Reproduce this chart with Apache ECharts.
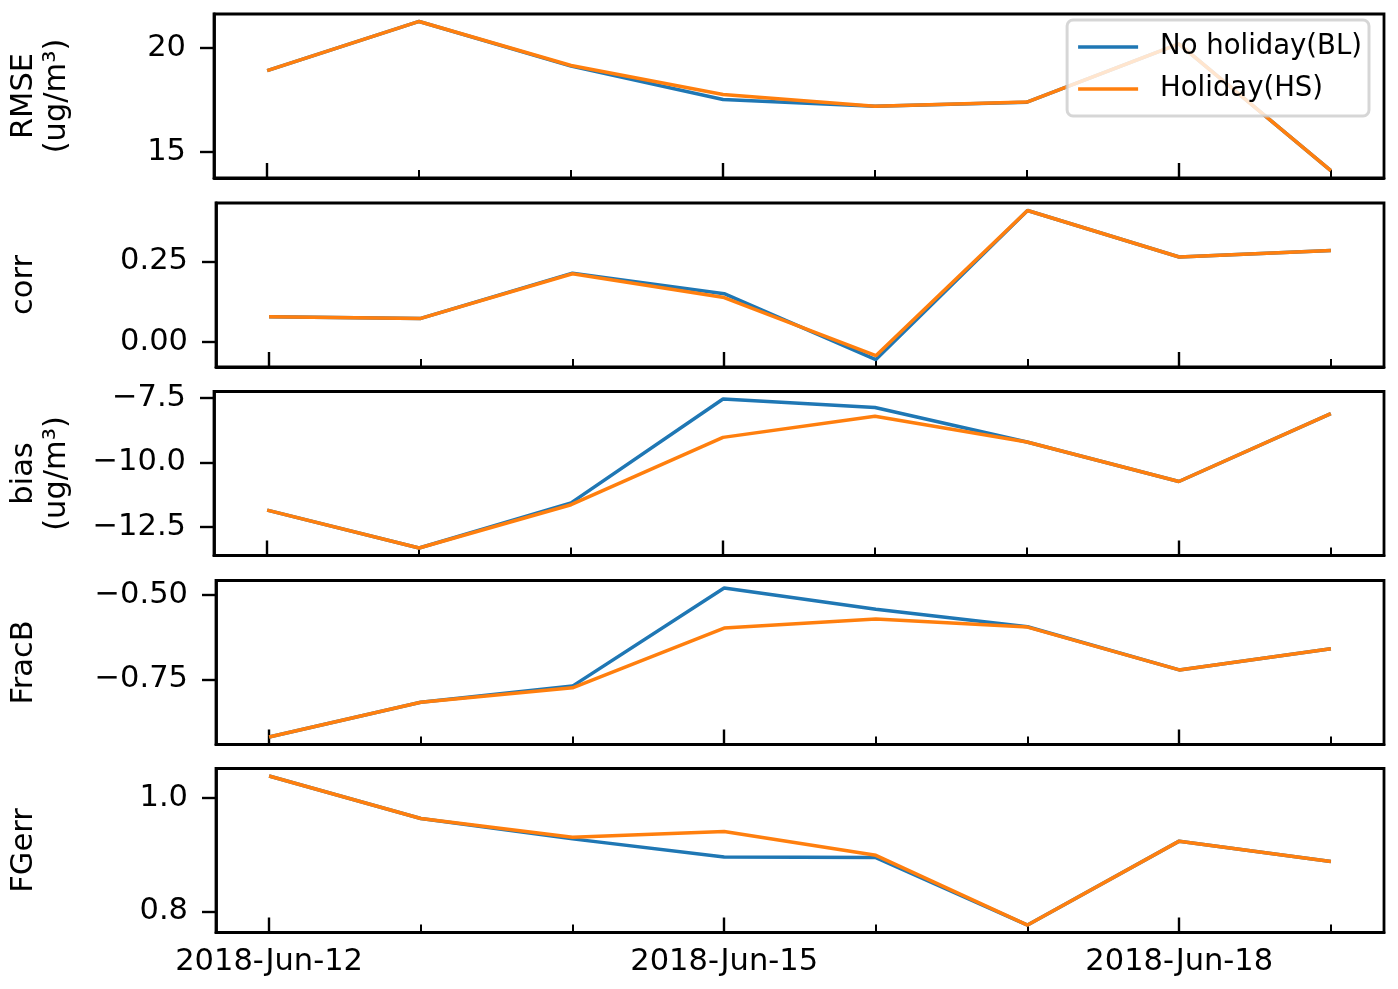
<!DOCTYPE html>
<html>
<head>
<meta charset="utf-8">
<script src="https://cdn.jsdelivr.net/npm/echarts@6/dist/echarts.min.js"></script>
<style>html,body{margin:0;padding:0;background:#fff;}#c{width:1398px;height:989px;}</style>
</head>
<body>
<div id="c"></div>
<script>
// ---- data ----
const dates = ['2018-Jun-12','2018-Jun-13','2018-Jun-14','2018-Jun-15','2018-Jun-16','2018-Jun-17','2018-Jun-18','2018-Jun-19'];
const majorDateIdx = [0, 3, 6];
const seriesNames = ['No holiday(BL)', 'Holiday(HS)'];

const rmseBL = [18.91, 21.28, 19.13, 17.52, 17.20, 17.39, 20.20, 14.10];
const rmseHS = [18.91, 21.28, 19.16, 17.76, 17.20, 17.40, 20.20, 14.10];
const corrBL = [0.078, 0.073, 0.214, 0.150, -0.055, 0.409, 0.264, 0.284];
const corrHS = [0.078, 0.073, 0.212, 0.138, -0.043, 0.409, 0.264, 0.284];
const biasBL = [-11.85, -13.32, -11.57, -7.54, -7.87, -9.21, -10.74, -8.11];
const biasHS = [-11.85, -13.32, -11.64, -9.03, -8.21, -9.21, -10.74, -8.11];
const fracbBL = [-0.921, -0.818, -0.770, -0.479, -0.542, -0.594, -0.722, -0.659];
const fracbHS = [-0.921, -0.818, -0.775, -0.598, -0.571, -0.595, -0.722, -0.659];
const fgerrBL = [1.039, 0.964, 0.928, 0.896, 0.895, 0.776, 0.924, 0.888];
const fgerrHS = [1.039, 0.964, 0.931, 0.941, 0.899, 0.776, 0.924, 0.888];

const rmseTicks = [15, 20];
const corrTicks = [0, 0.25];
const biasTicks = [-12.5, -10, -7.5];
const fracbTicks = [-0.75, -0.5];
const fgerrTicks = [0.8, 1.0];

const panelNames = ['RMSE\n(ug/m³)', 'corr', 'bias\n(ug/m³)', 'FracB', 'FGerr'];

// ---- build ----
const panels = [
  {name: panelNames[0], bl: rmseBL, hs: rmseHS, ticks: rmseTicks, dec: 0},
  {name: panelNames[1], bl: corrBL, hs: corrHS, ticks: corrTicks, dec: 2},
  {name: panelNames[2], bl: biasBL, hs: biasHS, ticks: biasTicks, dec: 1},
  {name: panelNames[3], bl: fracbBL, hs: fracbHS, ticks: fracbTicks, dec: 2},
  {name: panelNames[4], bl: fgerrBL, hs: fgerrHS, ticks: fgerrTicks, dec: 1}
];
const FONT = 'DejaVu Sans';
const FS = 30.5;
const LFS = 27.5;
const tops = [14, 203, 391.5, 580.5, 768.5];
const H = 164;
const colors = ['#1f77b4', '#ff7f0e'];
const xMin = -0.35, xMax = dates.length - 1 + 0.35;

const grid = [], xAxis = [], yAxis = [], series = [];
panels.forEach((p, i) => {
  grid.push({left: 213, right: 14, top: tops[i], height: H, show: true,
    borderColor: '#000', borderWidth: 2.8, backgroundColor: 'transparent'});
  const isLast = i === panels.length - 1;
  xAxis.push({type: 'value', gridIndex: i, min: xMin, max: xMax,
    axisLine: {show: true, onZero: false, lineStyle: {color: '#000', width: 2.8}},
    axisTick: {show: true, inside: true, length: 8, lineStyle: {color: '#000', width: 2},
      customValues: dates.map((d, k) => k)},
    axisLabel: {show: isLast, customValues: majorDateIdx, margin: 14,
      fontFamily: FONT, fontSize: FS, color: '#000',
      formatter: v => dates[Math.round(v)]},
    splitLine: {show: false}});
  xAxis.push({type: 'value', gridIndex: i, min: xMin, max: xMax, position: 'bottom',
    axisLine: {show: false, onZero: false},
    axisTick: {show: true, inside: true, length: 15, lineStyle: {color: '#000', width: 2.4},
      customValues: majorDateIdx},
    axisLabel: {show: false, customValues: majorDateIdx},
    splitLine: {show: false}});
  const all = p.bl.concat(p.hs);
  const dmin = Math.min(...all), dmax = Math.max(...all);
  const pad = 0.05 * (dmax - dmin);
  const twoLine = p.name.indexOf('\n') >= 0;
  yAxis.push({type: 'value', gridIndex: i, min: dmin - pad, max: dmax + pad,
    name: p.name, nameLocation: 'middle', nameRotate: 90, nameGap: twoLine ? 140 : 175,
    nameTextStyle: {fontFamily: FONT, fontSize: FS, color: '#000', lineHeight: 33},
    axisLine: {show: true, onZero: false, lineStyle: {color: '#000', width: 2.8}},
    axisTick: {show: true, inside: false, length: 14, lineStyle: {color: '#000', width: 2.4},
      customValues: p.ticks},
    axisLabel: {show: true, customValues: p.ticks, margin: 28,
      fontFamily: FONT, fontSize: FS, color: '#000',
      formatter: v => v.toFixed(p.dec).replace('-', '\u2212')},
    splitLine: {show: false}});
  [p.bl, p.hs].forEach((arr, s) => {
    series.push({type: 'line', name: seriesNames[s], xAxisIndex: 2 * i, yAxisIndex: i,
      data: arr.map((v, k) => [k, v]), symbol: 'none', showSymbol: false,
      lineStyle: {color: colors[s], width: 3.5}, itemStyle: {color: colors[s]},
      z: 2 + s});
  });
});

const chart = echarts.init(document.getElementById('c'), null, {renderer: 'canvas'});
chart.setOption({
  animation: false,
  backgroundColor: '#fff',
  grid, xAxis, yAxis, series,
  legend: {
    data: seriesNames, right: 29, top: 20, orient: 'vertical',
    icon: 'rect', itemWidth: 60, itemHeight: 3.5, itemGap: 14,
    padding: [13, 7, 13, 11],
    backgroundColor: 'rgba(255,255,255,0.8)', borderColor: 'rgba(204,204,204,0.8)',
    borderWidth: 3, borderRadius: 6,
    textStyle: {fontFamily: FONT, fontSize: LFS, color: '#000', padding: [0, 0, 0, 17]}
  }
});
</script>
</body>
</html>
